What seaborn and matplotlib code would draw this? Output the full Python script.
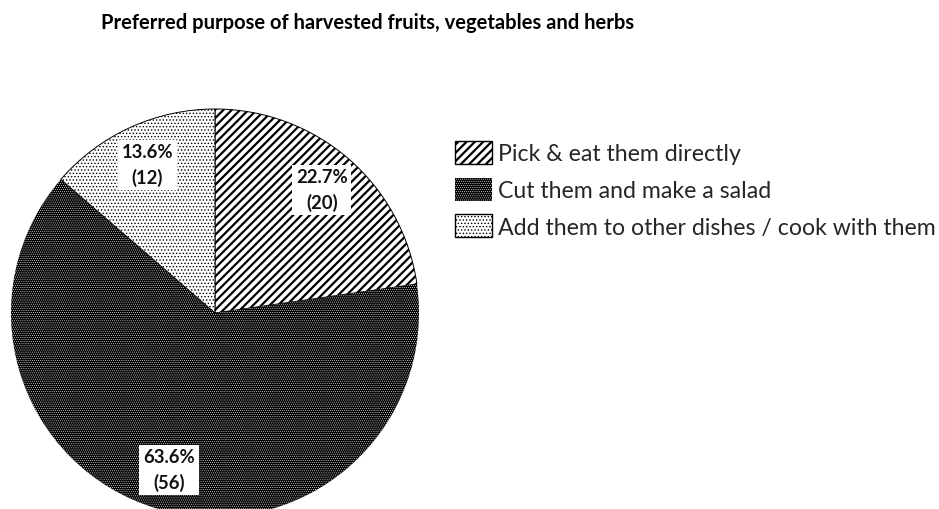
import matplotlib
matplotlib.use("Agg")
import matplotlib.pyplot as plt
import seaborn as sns
import numpy as np
from matplotlib.patches import Patch

sns.set_theme(style="white")
plt.rcParams["font.family"] = ["Lato", "DejaVu Sans"]

title = "Preferred purpose of harvested fruits, vegetables and herbs"
categories = [
    "Pick & eat them directly",
    "Cut them and make a salad",
    "Add them to other dishes / cook with them",
]
counts = [20, 56, 12]

face_colors = ["white", "black", "white"]
hatch_colors = ["black", "white", "black"]
hatches = ["////", "........", "....."]
hatch_widths = [1.6, 0.35, 0.6]
outline_widths = [0.7, 0.0, 0.7]

W, H = 939, 510
fig = plt.figure(figsize=(W / 100, H / 100), dpi=100)
fig.patch.set_facecolor("white")

# pie centre and radius in pixels
cx, cy, R = 215, 314, 204
ax = fig.add_axes([(cx - R) / W, (H - cy - R) / H, 2 * R / W, 2 * R / H])

wedges, _ = ax.pie(counts, startangle=90, counterclock=False, radius=1,
                   colors=face_colors)
ax.set_xlim(-1, 1)
ax.set_ylim(-1, 1)
ax.axis("off")


def use_hatch_width(artist, lw):
    """Draw the artist with its own hatch line width."""
    if hasattr(artist, "set_hatch_linewidth"):
        artist.set_hatch_linewidth(lw)
    base_draw = artist.draw

    def draw(renderer, *args, **kwargs):
        with plt.rc_context({"hatch.linewidth": lw}):
            return base_draw(renderer, *args, **kwargs)

    artist.draw = draw


def style_patch(p, i):
    p.set_edgecolor(hatch_colors[i])
    p.set_hatch(hatches[i])


for i, w in enumerate(wedges):
    style_patch(w, i)
    w.set_linewidth(outline_widths[i])
    use_hatch_width(w, hatch_widths[i])

total = sum(counts)
for w, n in zip(wedges, counts):
    mid = np.deg2rad((w.theta1 + w.theta2) / 2)
    r = 0.8
    ax.text(r * np.cos(mid), r * np.sin(mid), f"{100 * n / total:.1f}%\n({n})",
            ha="center", va="center", fontsize=13.3, fontweight="bold",
            linespacing=1.5, color="#111111",
            bbox=dict(boxstyle="square,pad=0.2", facecolor="white", edgecolor="none"))

handles = []
for i in range(len(categories)):
    h = Patch(facecolor=face_colors[i], linewidth=0 if i == 1 else 1.0)
    style_patch(h, i)
    if i != 1:
        h.set_edgecolor("black")
    handles.append(h)

leg = fig.legend(handles, categories, loc="upper left",
                 bbox_to_anchor=(455 / W, 1 - 142 / H), frameon=False,
                 fontsize=16.7, handlelength=1.58, handleheight=1.16,
                 handletextpad=0.28, labelspacing=0.57,
                 borderpad=0, borderaxespad=0)
for i, h in enumerate(leg.legend_handles):
    use_hatch_width(h, hatch_widths[i])

fig.text(101 / W, 1 - 29 / H, title, fontsize=14.5, fontweight="bold",
         ha="left", va="baseline", color="black")

fig.savefig("out.png", dpi=100, facecolor="white")
